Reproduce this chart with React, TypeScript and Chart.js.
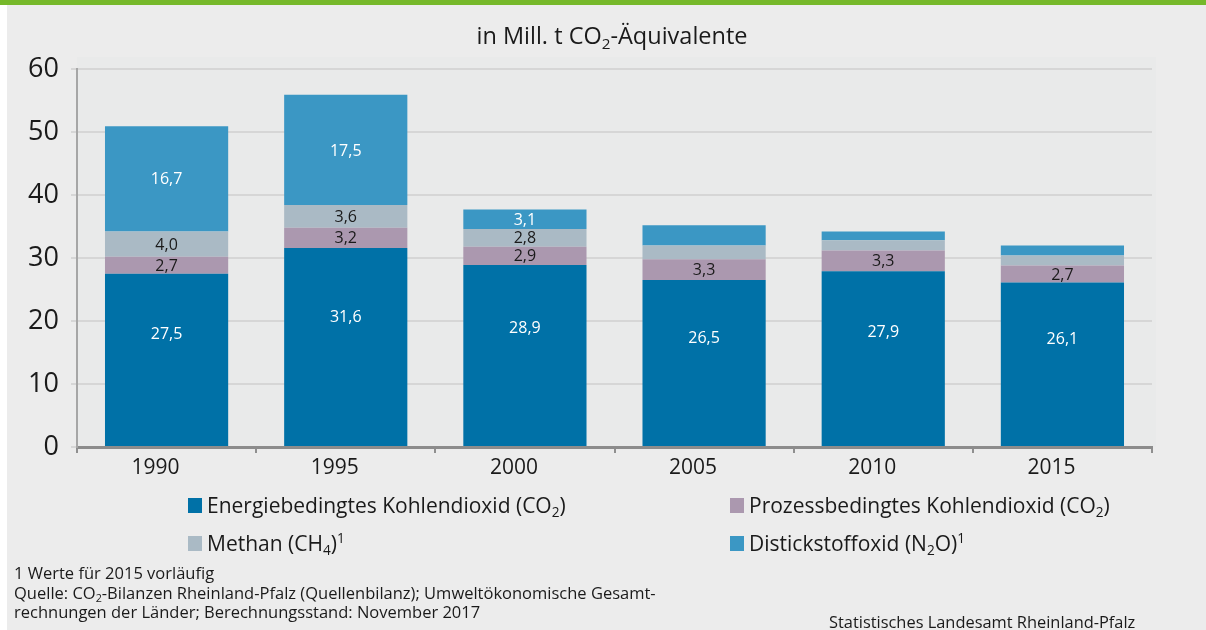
import React, { useEffect, useRef } from "react";
import { Chart, registerables } from "chart.js";

Chart.register(...registerables);

const years = ["1990", "1995", "2000", "2005", "2010", "2015"];
const energie = [27.5, 31.6, 28.9, 26.5, 27.9, 26.1];
const prozess = [2.7, 3.2, 2.9, 3.3, 3.3, 2.7];
const methan = [4.0, 3.6, 2.8, 2.2, 1.6, 1.6];
const lachgas = [16.7, 17.5, 3.1, 3.2, 1.4, 1.6];
const energieShown = [true, true, true, true, true, true];
const prozessShown = [true, true, true, true, true, true];
const methanShown = [true, true, true, false, false, false];
const lachgasShown = [true, true, true, false, false, false];
const seriesNames = [
  "Energiebedingtes Kohlendioxid (CO₂)",
  "Prozessbedingtes Kohlendioxid (CO₂)",
  "Methan (CH₄)¹",
  "Distickstoffoxid (N₂O)¹",
];
const seriesColors = ["#0071A7", "#AB98AF", "#AABAC5", "#3B97C4"];
const labelColors = ["#ffffff", "#1a1a1a", "#1a1a1a", "#ffffff"];
const yTicks = [0, 10, 20, 30, 40, 50, 60];

const FONT = "'Open Sans', 'Noto Sans', sans-serif";

function rich(text: string) {
  const out: React.ReactNode[] = [];
  let buf = "";
  let k = 0;
  const flush = () => {
    if (buf) out.push(<span key={k++}>{buf}</span>);
    buf = "";
  };
  for (const ch of text) {
    if (ch === "₂" || ch === "₄") {
      flush();
      out.push(
        <sub key={k++} style={{ fontSize: "0.65em", verticalAlign: "-0.3em", lineHeight: 0 }}>
          {ch === "₂" ? "2" : "4"}
        </sub>
      );
    } else if (ch === "¹") {
      flush();
      out.push(
        <sup key={k++} style={{ fontSize: "0.65em", verticalAlign: "0.6em", lineHeight: 0 }}>
          1
        </sup>
      );
    } else buf += ch;
  }
  flush();
  return out;
}

const fmt = (v: number) => v.toFixed(1).replace(".", ",");

export default function App() {
  const ref = useRef<HTMLCanvasElement | null>(null);

  useEffect(() => {
    document.body.style.margin = "0";
    const canvas = ref.current;
    if (!canvas) return;
    const shownFlags = [energieShown, prozessShown, methanShown, lachgasShown];

    const labelPlugin = {
      id: "segLabels",
      afterDatasetsDraw(chart: any) {
        const ctx = chart.ctx;
        ctx.save();
        ctx.font = `16px ${FONT}`;
        ctx.textAlign = "center";
        ctx.textBaseline = "middle";
        chart.data.datasets.forEach((ds: any, di: number) => {
          const meta = chart.getDatasetMeta(di);
          meta.data.forEach((el: any, i: number) => {
            if (!shownFlags[di][i]) return;
            const top = el.y;
            const base = el.base;
            const y = di === 0 ? base - 0.65 * (base - top) : (top + base) / 2 + 1;
            ctx.fillStyle = labelColors[di];
            ctx.fillText(fmt(ds.data[i]), el.x, y);
          });
        });
        ctx.restore();
      },
    };

    const plotBg = {
      id: "plotBg",
      beforeDraw(chart: any) {
        const { ctx, chartArea } = chart;
        ctx.save();
        ctx.fillStyle = "#E9EAEA";
        ctx.fillRect(chartArea.left, chartArea.top - 12, chartArea.right - chartArea.left + 4, chartArea.bottom - chartArea.top + 12);
        ctx.restore();
      },
    };

    const chart = new Chart(canvas, {
      type: "bar",
      data: {
        labels: years,
        datasets: [energie, prozess, methan, lachgas].map((d, i) => ({
          label: seriesNames[i],
          data: d,
          backgroundColor: seriesColors[i],
          borderWidth: 0,
          barPercentage: 0.9,
          categoryPercentage: 0.764,
        })),
      },
      options: {
        animation: false,
        responsive: false,
        maintainAspectRatio: false,
        layout: { padding: { left: 0, right: 54, top: 69, bottom: 143 } },
        plugins: {
          legend: { display: false },
          title: { display: false },
          tooltip: { enabled: false },
        },
        scales: {
          x: {
            stacked: true,
            afterFit: (s: any) => {
              s.height = 40;
            },
            grid: {
              display: true,
              offset: true,
              drawOnChartArea: false,
              drawTicks: true,
              tickLength: 6,
              color: "#8F8F8F",
              lineWidth: 2,
            },
            border: { display: true, color: "#8C8C8C", width: 3 },
            ticks: {
              color: "#1a1a1a",
              font: { family: FONT, size: 21 },
              padding: 2,
              labelOffset: -11,
            },
          },
          y: {
            stacked: true,
            min: 0,
            max: 60,
            afterFit: (s: any) => {
              s.width = 77;
            },
            afterBuildTicks: (s: any) => {
              s.ticks = yTicks.map((v) => ({ value: v }));
            },
            grid: {
              color: "#D6D6D6",
              lineWidth: 2,
              tickLength: 6,
              drawTicks: true,
            },
            border: { display: true, color: "#A6A6A6", width: 2 },
            ticks: {
              color: "#1a1a1a",
              font: { family: FONT, size: 27 },
              padding: 12,
            },
          },
        },
      },
      plugins: [plotBg, labelPlugin],
    });
    return () => chart.destroy();
  }, []);

  const textColor = "#1a1a1a";

  return (
    <div
      style={{
        position: "relative",
        width: 1206,
        height: 630,
        background: "#ECECEC",
        overflow: "hidden",
        fontFamily: FONT,
        color: textColor,
      }}
    >
      <div style={{ position: "absolute", left: 0, top: 0, width: 1206, height: 5, background: "#76B82A" }} />
      <div style={{ position: "absolute", left: 0, top: 5, width: 7, height: 625, background: "#FFFFFF" }} />
      <canvas ref={ref} width={1206} height={630} style={{ position: "absolute", left: 0, top: 0 }} />
      <div
        style={{
          position: "absolute",
          left: 0,
          width: 1224,
          top: 19,
          textAlign: "center",
          fontSize: 23.5,
          lineHeight: "32px",
          whiteSpace: "nowrap",
        }}
      >
        {rich("in Mill. t CO₂-Äquivalente")}
      </div>
      {seriesNames.map((name, i) => {
        const col = i % 2;
        const row = Math.floor(i / 2);
        const left = col === 0 ? 188 : 730;
        const top = row === 0 ? 490 : 528;
        return (
          <div
            key={name}
            style={{
              position: "absolute",
              left,
              top,
              height: 30,
              display: "flex",
              alignItems: "center",
              fontSize: 21,
              whiteSpace: "nowrap",
            }}
          >
            <span
              style={{
                display: "inline-block",
                width: 14,
                height: 15,
                background: seriesColors[i],
                marginRight: 5,
              }}
            />
            <span>{rich(name)}</span>
          </div>
        );
      })}
      <div
        style={{
          position: "absolute",
          left: 14,
          top: 563,
          fontSize: 16.5,
          lineHeight: "19.5px",
          whiteSpace: "nowrap",
        }}
      >
        <div>1 Werte für 2015 vorläufig</div>
        <div>{rich("Quelle: CO₂-Bilanzen Rheinland-Pfalz (Quellenbilanz); Umweltökonomische Gesamt-")}</div>
        <div>rechnungen der Länder; Berechnungsstand: November 2017</div>
      </div>
      <div
        style={{
          position: "absolute",
          left: 829,
          top: 611,
          fontSize: 16.4,
          lineHeight: "22px",
          whiteSpace: "nowrap",
        }}
      >
        Statistisches Landesamt Rheinland-Pfalz
      </div>
    </div>
  );
}
